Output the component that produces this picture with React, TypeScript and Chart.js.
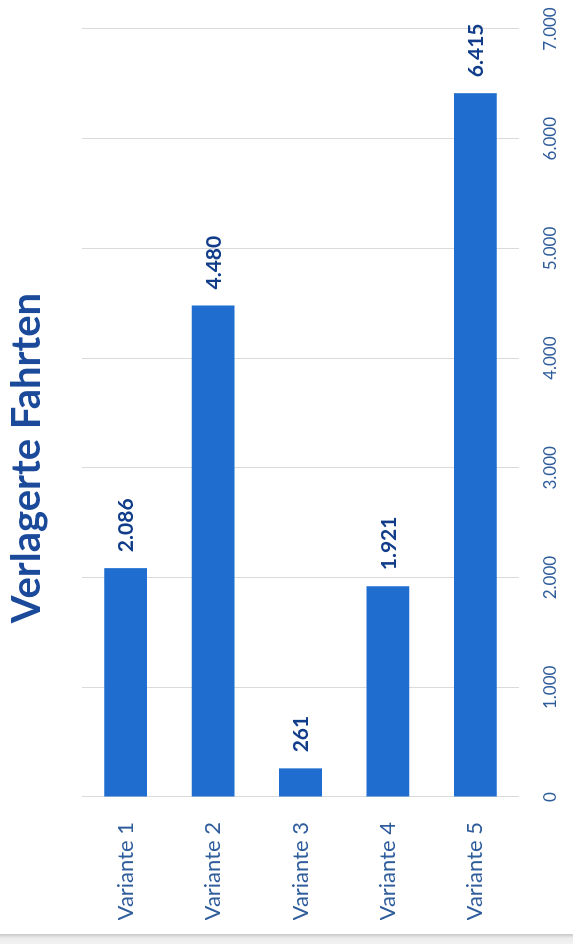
import React, { useEffect, useRef } from "react";
import { Chart, registerables } from "chart.js";

Chart.register(...registerables);

const categories = ["Variante 1", "Variante 2", "Variante 3", "Variante 4", "Variante 5"];
const values = [2086, 4480, 261, 1921, 6415];
const axisMin = 0;
const axisMax = 7000;
const axisStep = 1000;
const titleText = "Verlagerte Fahrten";

function fmt(n: number): string {
  const s = Math.round(n).toString();
  return s.replace(/\B(?=(\d{3})+(?!\d))/g, ".");
}

const titlePlugin = {
  id: "rotTitle",
  afterDraw(chart: any) {
    const ctx = chart.ctx;
    ctx.save();
    ctx.font = "bold 40px Lato";
    ctx.fillStyle = "#1b4a9a";
    ctx.textAlign = "center";
    ctx.textBaseline = "alphabetic";
    ctx.fillText(titleText, 486, 40);
    ctx.restore();
  },
};

const valueLabelPlugin = {
  id: "valueLabels",
  afterDatasetsDraw(chart: any) {
    const ctx = chart.ctx;
    const meta = chart.getDatasetMeta(0);
    const data = chart.data.datasets[0].data as number[];
    ctx.save();
    ctx.font = "bold 21px Lato";
    ctx.fillStyle = "#103c8a";
    ctx.textAlign = "left";
    ctx.textBaseline = "middle";
    meta.data.forEach((bar: any, i: number) => {
      ctx.fillText(fmt(data[i]), bar.x + 16, bar.y + 1);
    });
    ctx.restore();
  },
};

export default function App() {
  const ref = useRef<HTMLCanvasElement | null>(null);

  useEffect(() => {
    if (!ref.current) return;
    const chart = new Chart(ref.current, {
      type: "bar",
      data: {
        labels: categories,
        datasets: [
          {
            data: values,
            backgroundColor: "#1e6dcf",
            borderWidth: 0,
            barPercentage: 0.49,
            categoryPercentage: 1,
          },
        ],
      },
      options: {
        indexAxis: "y",
        responsive: false,
        animation: false,
        devicePixelRatio: 1,
        layout: { padding: { top: 82, left: 24, right: 29, bottom: 0 } },
        plugins: {
          legend: { display: false },
          title: { display: false },
          tooltip: { enabled: false },
        },
        scales: {
          x: {
            position: "bottom",
            min: axisMin,
            max: axisMax,
            grid: { color: "#dadada", lineWidth: 1, drawTicks: false },
            border: { display: false },
            ticks: {
              stepSize: axisStep,
              padding: 21,
              color: "#2f5d9c",
              font: { family: "Lato", size: 17 },
              callback: (v: any) => fmt(Number(v)),
            },
            afterFit: (scale: any) => {
              scale.paddingRight = 0;
              scale.paddingLeft = 0;
              scale.height = 54;
            },
          },
          y: {
            position: "left",
            grid: { display: false, drawTicks: false },
            border: { display: false },
            ticks: {
              padding: 25,
              color: "#2f5d9c",
              font: { family: "Lato", size: 22 },
            },
            afterFit: (scale: any) => {
              scale.width = 123;
            },
          },
        },
      },
      plugins: [titlePlugin, valueLabelPlugin],
    });
    return () => chart.destroy();
  }, []);

  return (
    <div
      style={{
        position: "fixed",
        left: 0,
        top: 0,
        width: 573,
        height: 944,
        overflow: "hidden",
        background: "#ffffff",
      }}
    >
      <div
        style={{
          position: "absolute",
          left: 0,
          top: 0,
          width: 944,
          height: 573,
          transformOrigin: "0 0",
          transform: "translateY(944px) rotate(-90deg)",
        }}
      >
        <canvas ref={ref} width={944} height={573} style={{ width: 944, height: 573, display: "block" }} />
      </div>
      <div
        style={{
          position: "absolute",
          left: 0,
          top: 934,
          width: 573,
          height: 10,
          background: "linear-gradient(#c8c8c8, #ececec 40%, #f2f2f2)",
        }}
      />
    </div>
  );
}
